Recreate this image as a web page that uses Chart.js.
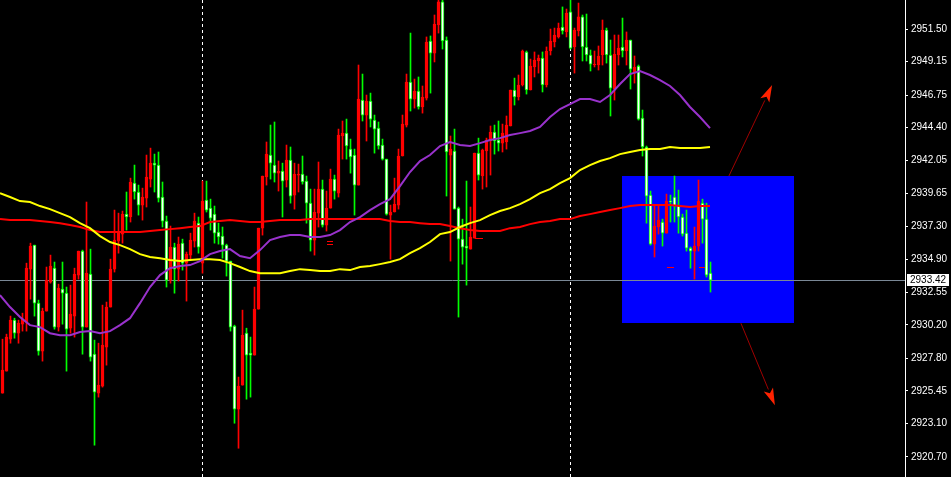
<!DOCTYPE html>
<html><head><meta charset="utf-8">
<script src="https://cdn.jsdelivr.net/npm/chart.js@4.4.1/dist/chart.umd.min.js"></script>
<style>html,body{margin:0;padding:0;background:#000;overflow:hidden}#wrap{width:951px;height:477px;position:relative;background:#000}</style>
</head><body><div id="wrap"><canvas id="c" width="951" height="477"></canvas></div>
<script>
// ---- candle data (bar index 0..177) ----
const opens = [
2925.29,2926.88,2929.18,2930.55,2929.61,2930.26,2930.41,2934.22,2935.95,2931.77,
2928.32,2931.20,2933.29,2934.29,2930.05,2932.78,2932.49,2929.97,2930.84,2933.79,
2935.52,2930.05,2933.86,2928.10,2925.29,2925.80,2928.61,2931.49,2934.22,2936.24,
2936.74,2938.18,2937.97,2940.41,2939.77,2938.83,2939.33,2940.70,2941.85,2941.71,
2939.41,2937.68,2933.43,2935.81,2934.22,2936.09,2934.65,2935.23,2936.24,2937.53,
2934.65,2939.19,2938.61,2938.18,2936.89,2936.60,2935.95,2934.80,2930.12,2924.15,
2925.87,2929.61,2928.17,2928.03,2931.34,2937.17,2940.85,2942.43,2941.71,2941.13,
2941.28,2940.63,2942.07,2939.55,2940.99,2941.06,2940.56,2938.97,2936.31,2938.25,
2939.98,2937.39,2938.61,2940.70,2939.69,2943.80,2944.01,2942.86,2942.43,2940.27,
2946.39,2945.31,2946.32,2944.95,2944.37,2943.15,2942.14,2938.11,2938.33,2938.83,
2942.36,2944.59,2947.69,2946.46,2947.04,2945.89,2946.53,2950.64,2949.77,2951.79,
2953.45,2950.71,2942.43,2942.72,2938.61,2936.38,2935.88,2935.66,2936.45,2942.57,
2940.92,2942.72,2943.44,2944.09,2943.51,2943.29,2943.37,2944.52,2947.11,2946.61,
2947.47,2949.85,2947.11,2948.77,2949.20,2949.41,2947.47,2949.92,2950.57,2950.93,
2951.65,2951.29,2952.73,2950.21,2951.36,2952.37,2950.21,2949.63,2948.91,2948.91,
2949.63,2951.43,2949.63,2947.18,2949.63,2950.21,2949.92,2950.71,2948.33,2948.84,
2945.09,2943.01,2939.55,2936.02,2937.25,2937.61,2936.81,2939.12,2939.41,2938.83,
2937.97,2936.81,2935.73,2935.52,2935.88,2938.97,2937.82,2933.93];
const highs = [
2929.18,2929.54,2930.84,2930.69,2930.55,2931.05,2934.65,2936.09,2935.95,2931.99,
2931.41,2934.37,2935.23,2934.73,2933.14,2934.73,2932.93,2933.07,2934.29,2935.52,
2935.59,2939.05,2935.66,2929.11,2928.89,2931.63,2931.85,2934.94,2938.47,2938.25,
2938.40,2939.77,2940.77,2941.71,2940.27,2940.05,2942.43,2942.93,2942.50,2942.65,
2940.49,2938.04,2937.32,2936.09,2936.53,2936.38,2935.45,2936.81,2938.25,2937.97,
2940.56,2940.56,2939.26,2938.76,2937.53,2937.25,2936.02,2934.80,2930.19,2926.45,
2931.27,2929.97,2929.33,2932.93,2937.17,2940.92,2943.37,2944.59,2944.81,2942.00,
2941.85,2943.15,2943.01,2941.85,2941.78,2942.36,2940.92,2939.98,2939.98,2941.93,
2940.63,2939.84,2941.42,2940.99,2944.30,2944.88,2945.02,2943.58,2942.86,2948.91,
2948.26,2946.75,2946.89,2945.31,2944.81,2943.58,2942.14,2938.83,2940.77,2942.86,
2945.31,2948.26,2951.21,2947.90,2948.05,2947.40,2950.93,2951.00,2952.51,2953.95,
2953.95,2950.93,2943.80,2944.30,2938.69,2937.82,2940.56,2938.69,2942.57,2943.65,
2942.86,2943.65,2944.52,2944.59,2944.88,2944.66,2945.24,2947.11,2947.97,2948.19,
2949.99,2949.92,2949.34,2949.85,2949.63,2949.85,2950.21,2951.50,2951.57,2951.93,
2953.09,2952.94,2953.81,2951.57,2953.37,2952.51,2952.58,2949.99,2949.92,2950.28,
2952.15,2951.57,2950.71,2951.07,2951.07,2952.29,2951.29,2950.71,2949.56,2948.91,
2945.67,2943.08,2939.84,2938.83,2938.83,2937.82,2939.62,2939.55,2940.92,2939.91,
2938.18,2938.47,2935.81,2937.25,2940.63,2939.26,2938.97,2934.73];
const lows = [
2925.29,2926.88,2928.89,2929.25,2928.89,2929.76,2929.76,2932.06,2930.84,2928.03,
2927.60,2931.20,2933.21,2929.90,2929.76,2930.26,2926.88,2929.61,2929.33,2933.50,
2928.10,2930.05,2927.60,2921.55,2925.01,2925.73,2927.31,2931.49,2934.01,2935.37,
2936.09,2937.03,2937.61,2939.26,2938.11,2937.75,2938.69,2940.13,2939.77,2939.05,
2937.25,2932.93,2933.21,2932.49,2933.36,2934.15,2931.92,2934.94,2935.81,2935.37,
2933.93,2938.33,2937.03,2936.09,2936.02,2935.01,2933.72,2929.76,2923.13,2921.33,
2925.87,2924.86,2925.01,2928.03,2931.34,2936.67,2940.27,2940.70,2940.49,2939.84,
2937.97,2940.13,2938.97,2938.54,2939.77,2940.34,2937.53,2935.52,2935.23,2937.25,
2937.25,2936.96,2938.61,2939.26,2939.41,2942.14,2942.14,2941.13,2938.11,2940.27,
2944.88,2943.44,2944.45,2942.57,2942.86,2942.07,2938.11,2934.94,2938.33,2938.54,
2942.36,2944.45,2945.60,2945.81,2945.74,2945.45,2946.39,2946.89,2949.13,2951.21,
2950.06,2939.48,2934.80,2938.54,2930.77,2934.58,2933.07,2935.66,2936.45,2940.63,
2939.98,2940.13,2940.99,2942.50,2942.72,2942.65,2942.86,2944.52,2946.03,2946.39,
2947.40,2946.82,2947.11,2948.05,2948.33,2946.97,2947.33,2949.63,2950.21,2950.85,
2951.14,2950.93,2950.06,2948.33,2951.00,2949.20,2949.20,2948.48,2948.77,2948.55,
2948.91,2949.05,2945.24,2946.39,2948.91,2949.49,2948.91,2947.18,2947.61,2944.95,
2942.36,2937.53,2935.95,2935.09,2936.74,2935.88,2936.81,2937.61,2937.61,2936.81,
2936.60,2935.52,2934.29,2933.50,2935.52,2936.09,2933.65,2932.57];
const closes = [
2926.95,2929.33,2930.55,2929.61,2930.33,2930.62,2934.29,2935.88,2931.77,2928.32,
2931.20,2933.43,2934.44,2930.05,2932.85,2932.49,2929.90,2930.98,2933.86,2935.52,
2930.05,2933.93,2927.89,2925.37,2925.87,2928.75,2931.49,2934.22,2936.31,2936.81,
2938.18,2937.97,2940.49,2939.77,2938.83,2939.41,2940.85,2941.85,2941.71,2939.33,
2937.68,2933.43,2935.81,2934.22,2936.02,2934.65,2935.30,2936.31,2937.68,2935.81,
2939.12,2938.47,2937.89,2936.81,2936.53,2935.95,2934.80,2930.05,2924.15,2925.80,
2929.47,2928.03,2928.03,2931.34,2937.17,2940.92,2942.50,2941.85,2941.13,2941.28,
2940.56,2942.07,2939.48,2941.06,2941.06,2940.49,2938.97,2936.31,2938.33,2939.98,
2937.39,2938.61,2940.70,2939.84,2943.87,2944.01,2943.08,2942.29,2940.27,2946.46,
2945.31,2946.32,2945.02,2944.30,2943.08,2942.14,2938.18,2938.33,2938.90,2942.36,
2944.66,2947.69,2946.46,2947.04,2945.89,2946.61,2950.57,2949.77,2951.86,2953.45,
2950.64,2942.65,2942.86,2938.54,2936.38,2935.81,2935.73,2936.53,2942.57,2940.99,
2942.79,2943.51,2944.09,2943.44,2943.29,2944.01,2944.59,2947.11,2946.61,2947.47,
2949.92,2947.11,2948.84,2949.27,2949.41,2947.47,2949.92,2950.64,2951.07,2951.57,
2951.36,2952.65,2950.13,2951.43,2952.37,2950.21,2949.63,2948.98,2948.98,2949.56,
2951.43,2949.63,2947.25,2949.70,2950.13,2949.92,2950.71,2948.62,2948.77,2945.02,
2943.01,2939.48,2936.02,2937.32,2937.75,2936.81,2939.12,2939.05,2938.76,2937.97,
2936.74,2935.73,2935.52,2935.88,2939.12,2937.82,2933.79,2933.42];

// ---- moving averages, sampled every 2.5 bars starting at bar -0.625 ----
const maPurple = [
2932.35,2931.49,2930.77,2930.19,2930.05,2929.61,2929.47,2929.47,2929.69,2929.76,
2929.61,2929.76,2930.19,2930.69,2931.77,2932.93,2933.79,2934.29,2934.44,2934.51,
2934.80,2935.30,2935.52,2935.66,2935.16,2935.01,2935.59,2936.31,2936.53,2936.67,
2936.67,2936.53,2936.53,2936.67,2937.03,2937.61,2937.97,2938.47,2938.90,2939.26,
2940.20,2941.21,2942.00,2942.43,2943.08,2943.37,2943.15,2943.08,2943.29,2943.51,
2943.65,2943.87,2944.01,2944.16,2944.45,2945.17,2945.74,2946.10,2946.46,2946.46,
2946.25,2946.75,2947.54,2948.26,2948.48,2948.19,2947.83,2947.40,2946.75,2945.89,
2945.17,2944.37];
const maYellow = [
2939.69,2939.41,2939.12,2939.05,2938.76,2938.54,2938.25,2937.97,2937.53,2937.17,
2936.60,2936.17,2935.95,2935.66,2935.30,2935.09,2935.01,2934.87,2934.80,2934.87,
2934.94,2934.94,2934.87,2934.65,2934.37,2934.08,2933.93,2933.93,2933.93,2934.08,
2934.22,2934.15,2934.08,2934.08,2934.22,2934.15,2934.37,2934.44,2934.58,2934.73,
2934.94,2935.37,2935.73,2936.17,2936.74,2936.89,2937.25,2937.53,2937.75,2938.11,
2938.40,2938.61,2938.90,2939.26,2939.69,2939.98,2940.41,2940.77,2941.35,2941.71,
2942.00,2942.21,2942.50,2942.65,2942.79,2942.86,2942.86,2943.01,2942.93,2942.93,
2942.93,2943.01];
const maRed = [
2937.82,2937.75,2937.75,2937.75,2937.68,2937.61,2937.53,2937.39,2937.25,2937.03,
2936.89,2936.89,2936.89,2936.89,2936.89,2936.96,2937.03,2937.10,2937.17,2937.25,
2937.32,2937.61,2937.68,2937.75,2937.68,2937.61,2937.61,2937.68,2937.75,2937.75,
2937.75,2937.82,2937.82,2937.82,2937.82,2937.82,2937.82,2937.82,2937.82,2937.68,
2937.61,2937.61,2937.53,2937.46,2937.46,2937.32,2937.17,2937.03,2936.96,2936.96,
2936.96,2937.17,2937.25,2937.46,2937.61,2937.68,2937.82,2937.82,2938.04,2938.18,
2938.33,2938.47,2938.61,2938.76,2938.83,2938.83,2938.83,2938.83,2938.76,2938.69,
2938.76,2938.76];

// ---- axis ticks and annotations ----
const yTicks = [2951.50,2949.15,2946.75,2944.40,2942.05,2939.65,2937.30,2934.90,2932.55,2930.20,2927.80,2925.45,2923.10,2920.70];
const lastPrice = 2933.42;
const separators = [50, 142];
const zoneBars = [154.875, 197.875];
const zonePrices = [2940.92, 2930.33];
const arrowUp = {from: [181.6, 2940.92], to: [192.4, 2947.47]};
const arrowDown = {from: [184.6, 2930.33], to: [193.1, 2924.43]};
// small red trade marks: [startBar, endBar, price]
const tradeMarks = [[81.0, 82.6, 2936.24], [81.0, 82.6, 2936.02], [118.1, 120.1, 2936.45], [166.1, 167.9, 2934.37], [174.1, 175.9, 2934.37]];

const N = opens.length;
const idx = Array.from({length: N}, (_, i) => i);
const isBull = i => closes[i] >= opens[i];
const maX = i => -0.625 + 2.5 * i;

const overlay = {
  id: 'overlay',
  beforeDatasetsDraw(chart) {
    const {ctx, chartArea: a, scales: {x, y}} = chart;
    ctx.save();
    const zx0 = Math.round(x.getPixelForValue(zoneBars[0])), zx1 = Math.round(x.getPixelForValue(zoneBars[1]));
    const zy0 = Math.round(y.getPixelForValue(zonePrices[0])), zy1 = Math.round(y.getPixelForValue(zonePrices[1]));
    ctx.fillStyle = '#0000ff';
    ctx.fillRect(zx0, zy0, zx1 - zx0, zy1 - zy0);
    ctx.strokeStyle = '#ffffff'; ctx.lineWidth = 1; ctx.setLineDash([3, 3]);
    separators.forEach(s => {
      const px = Math.floor(x.getPixelForValue(s)) + 0.5;
      ctx.beginPath(); ctx.moveTo(px, a.top); ctx.lineTo(px, a.bottom); ctx.stroke();
    });
    ctx.setLineDash([]);
    const ly = Math.round(y.getPixelForValue(lastPrice)) + 0.5;
    ctx.strokeStyle = '#7a8896';
    ctx.beginPath(); ctx.moveTo(a.left, ly); ctx.lineTo(a.right, ly); ctx.stroke();
    ctx.strokeStyle = '#ff0000';
    tradeMarks.forEach(m => {
      const yy = Math.round(y.getPixelForValue(m[2])) + 0.5;
      ctx.beginPath(); ctx.moveTo(Math.round(x.getPixelForValue(m[0])), yy); ctx.lineTo(Math.round(x.getPixelForValue(m[1])), yy); ctx.stroke();
    });
    ctx.restore();
  },
  afterDatasetsDraw(chart) {
    const {ctx, scales: {x, y}} = chart;
    const drawArrow = (ar) => {
      const x0 = x.getPixelForValue(ar.from[0]), y0 = y.getPixelForValue(ar.from[1]);
      const x1 = x.getPixelForValue(ar.to[0]), y1 = y.getPixelForValue(ar.to[1]);
      const ang = Math.atan2(y1 - y0, x1 - x0);
      const L = 17, W = 5;
      const bx = x1 - L * Math.cos(ang), by = y1 - L * Math.sin(ang);
      ctx.save();
      ctx.strokeStyle = '#a00000'; ctx.lineWidth = 1;
      ctx.beginPath(); ctx.moveTo(x0, y0); ctx.lineTo(bx, by); ctx.stroke();
      ctx.fillStyle = '#ff2200';
      ctx.beginPath();
      ctx.moveTo(x1, y1);
      ctx.lineTo(bx + W * Math.sin(ang), by - W * Math.cos(ang));
      ctx.lineTo(bx + 4 * Math.cos(ang), by + 4 * Math.sin(ang));
      ctx.lineTo(bx - W * Math.sin(ang), by + W * Math.cos(ang));
      ctx.closePath(); ctx.fill();
      ctx.restore();
    };
    drawArrow(arrowUp); drawArrow(arrowDown);
  },
  afterDraw(chart) {
    const {ctx, chartArea: a, scales: {y}} = chart;
    const ly = Math.round(y.getPixelForValue(lastPrice));
    ctx.save();
    ctx.fillStyle = '#ffffff';
    ctx.fillRect(a.right + 2, ly - 6, 42, 12);
    ctx.fillStyle = '#000000';
    ctx.font = '10px "Liberation Sans"';
    ctx.textBaseline = 'middle';
    ctx.textAlign = 'left';
    ctx.fillText(lastPrice.toFixed(2), a.right + 5, ly);
    ctx.restore();
  }
};

new Chart(document.getElementById('c'), {
  type: 'bar',
  data: {
    datasets: [
      {type: 'line', data: maPurple.map((v, i) => ({x: maX(i), y: v})), borderColor: '#9932cc', borderWidth: 2, pointRadius: 0, tension: 0, order: 0},
      {type: 'line', data: maYellow.map((v, i) => ({x: maX(i), y: v})), borderColor: '#ffff00', borderWidth: 2, pointRadius: 0, tension: 0, order: 0},
      {type: 'line', data: maRed.map((v, i) => ({x: maX(i), y: v})), borderColor: '#ff0000', borderWidth: 2, pointRadius: 0, tension: 0, order: 0},
      {data: idx.map(i => ({x: i, y: [opens[i], closes[i]]})),
       backgroundColor: idx.map(i => isBull(i) ? '#ff0000' : '#ffffff'),
       borderColor: idx.map(i => isBull(i) ? '#ff0000' : '#00ff00'),
       borderWidth: 1, borderSkipped: false, barThickness: 3, minBarLength: 1, grouped: false, order: 1},
      {data: idx.map(i => ({x: i, y: [lows[i], highs[i]]})),
       backgroundColor: idx.map(i => isBull(i) ? '#ff0000' : '#00ff00'),
       borderWidth: 0, barThickness: 1, grouped: false, order: 2}
    ]
  },
  options: {
    responsive: false, animation: false, events: [],
    devicePixelRatio: 1,
    layout: {padding: 0},
    plugins: {legend: {display: false}, tooltip: {enabled: false}},
    scales: {
      x: {type: 'linear', min: -0.625, max: 225.625, offset: false, display: false},
      y: {
        position: 'right', min: 2919.26, max: 2953.59,
        grid: {display: true, drawOnChartArea: false, drawTicks: true, tickLength: 3, color: '#ffffff'},
        border: {display: true, color: '#ffffff', width: 1},
        afterBuildTicks: s => { s.ticks = yTicks.map(v => ({value: v})); },
        afterFit: s => { s.width = 46; s.paddingTop = 0; s.paddingBottom = 0; },
        ticks: {autoSkip: false, padding: 3, color: '#ffffff', font: {family: 'Liberation Sans', size: 10},
                callback: v => Number(v).toFixed(2)}
      }
    }
  },
  plugins: [overlay]
});
</script></body></html>
